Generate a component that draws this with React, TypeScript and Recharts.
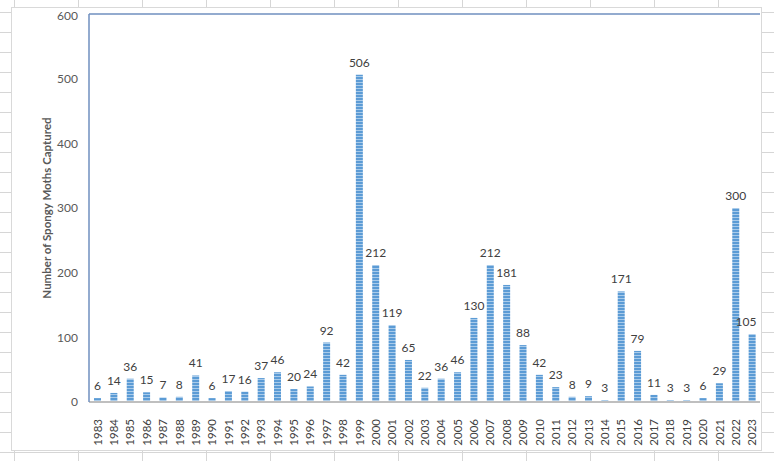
import { BarChart, Bar, XAxis, YAxis, LabelList, ReferenceLine } from 'recharts'

const years = [
  '1983', '1984', '1985', '1986', '1987', '1988', '1989', '1990', '1991', '1992',
  '1993', '1994', '1995', '1996', '1997', '1998', '1999', '2000', '2001', '2002',
  '2003', '2004', '2005', '2006', '2007', '2008', '2009', '2010', '2011', '2012',
  '2013', '2014', '2015', '2016', '2017', '2018', '2019', '2020', '2021', '2022', '2023',
]
const moths = [
  6, 14, 36, 15, 7, 8, 41, 6, 17, 16,
  37, 46, 20, 24, 92, 42, 506, 212, 119, 65,
  22, 36, 46, 130, 212, 181, 88, 42, 23, 8,
  9, 3, 171, 79, 11, 3, 3, 6, 29, 300, 105,
]
const yTicks = [0, 100, 200, 300, 400, 500, 600]

const data = years.map((y, i) => ({ year: y, count: moths[i] }))

const FONT = 'Lato, "Open Sans", sans-serif'
const TEXT = '#404040'
const AXIS_BLUE = '#6f8fbf'

/* value label above each bar, kept inside the chart on the right edge */
function ValueLabel(props: any) {
  const { x, y, width, value } = props
  const cx = Math.min(x + width / 2, 734)
  return (
    <text x={cx} y={y - 8} textAnchor="middle" fill={TEXT} fontSize={12} fontFamily={FONT}>
      {value}
    </text>
  )
}

function YearTick(props: any) {
  const { x, y, payload } = props
  return (
    <text
      x={x}
      y={y + 9}
      transform={`rotate(-90 ${x} ${y + 9})`}
      textAnchor="end"
      dominantBaseline="central"
      fill={TEXT}
      fontSize={11.5}
      fontFamily={FONT}
    >
      {payload.value}
    </text>
  )
}

export default function App() {
  return (
    <div
      style={{
        position: 'fixed', left: 0, top: 0, width: 774, height: 461, overflow: 'hidden', background: '#fff',
        backgroundImage:
          'linear-gradient(to bottom, #d6d6d6 1px, transparent 1px), linear-gradient(to right, #d6d6d6 1px, transparent 1px)',
        backgroundSize: '64px 20px',
        backgroundPosition: '14px 12px',
      }}
    >
      <div style={{ position: 'absolute', left: 11, top: 7, width: 751, height: 444, background: '#fff', border: '1px solid #d9d9d9', boxSizing: 'border-box' }}>
        <BarChart width={749} height={442} data={data} margin={{ top: 6, right: 1, bottom: 0, left: 0 }} barCategoryGap={0}>
          <defs>
            <pattern id="stripes" width="4" height="3" patternUnits="userSpaceOnUse">
              <rect width="4" height="3" fill="#5b9bd5" />
              <rect y="2" width="4" height="1" fill="#a9cbea" />
            </pattern>
          </defs>
          <XAxis
            dataKey="year"
            interval={0}
            tick={<YearTick />}
            tickLine={false}
            axisLine={{ stroke: '#bfbfbf', strokeWidth: 2 }}
            height={48}
          />
          <YAxis
            domain={[0, 600]}
            ticks={yTicks}
            width={77}
            tickLine={false}
            tickMargin={5}
            axisLine={{ stroke: AXIS_BLUE, strokeWidth: 1.5 }}
            tick={{ fill: '#595959', fontSize: 12, fontFamily: FONT }}
            label={{
              value: 'Number of Spongy Moths Captured',
              angle: -90,
              position: 'insideLeft',
              offset: 35,
              style: { textAnchor: 'middle', fill: '#595959', fontSize: 11.5, fontWeight: 700, fontFamily: FONT },
            }}
          />
          <ReferenceLine y={600} stroke={AXIS_BLUE} strokeWidth={1.5} />
          <Bar dataKey="count" fill="url(#stripes)" barSize={7} isAnimationActive={false}>
            <LabelList dataKey="count" content={<ValueLabel />} />
          </Bar>
        </BarChart>
      </div>
    </div>
  )
}
